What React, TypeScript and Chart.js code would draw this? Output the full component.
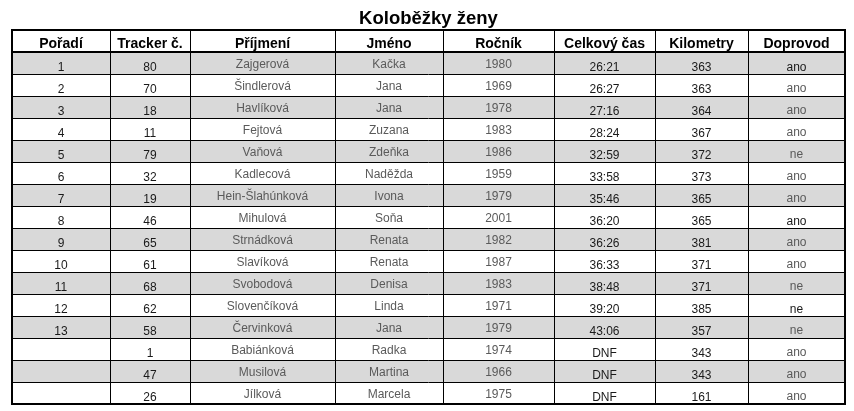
import React, { useEffect, useRef } from "react";
import { Chart, registerables } from "chart.js";

Chart.register(...registerables);

// ---------- DATA ----------
const title = "Koloběžky ženy";
const headers = ["Pořadí", "Tracker č.", "Příjmení", "Jméno", "Ročník", "Celkový čas", "Kilometry", "Doprovod"];
const ranks = ["1", "2", "3", "4", "5", "6", "7", "8", "9", "10", "11", "12", "13", "", "", ""];
const trackers = [80, 70, 18, 11, 79, 32, 19, 46, 65, 61, 68, 62, 58, 1, 47, 26];
const surnames = [
  "Zajgerová", "Šindlerová", "Havlíková", "Fejtová", "Vaňová", "Kadlecová", "Hein-Šlahúnková", "Mihulová",
  "Strnádková", "Slavíková", "Svobodová", "Slovenčíková", "Červinková", "Babiánková", "Musilová", "Jílková",
];
const firstNames = [
  "Kačka", "Jana", "Jana", "Zuzana", "Zdeňka", "Naděžda", "Ivona", "Soňa",
  "Renata", "Renata", "Denisa", "Linda", "Jana", "Radka", "Martina", "Marcela",
];
const birthYears = [1980, 1969, 1978, 1983, 1986, 1959, 1979, 2001, 1982, 1987, 1983, 1971, 1979, 1974, 1966, 1975];
const totalTimes = [
  "26:21", "26:27", "27:16", "28:24", "32:59", "33:58", "35:46", "36:20",
  "36:26", "36:33", "38:48", "39:20", "43:06", "DNF", "DNF", "DNF",
];
const kilometers = [363, 363, 364, 367, 372, 373, 365, 365, 381, 371, 371, 385, 357, 343, 343, 161];
const escorts = ["ano", "ano", "ano", "ano", "ne", "ano", "ano", "ano", "ano", "ano", "ne", "ne", "ne", "ano", "ano", "ano"];

// ---------- LAYOUT / STYLE ----------
const colWidths = [98, 80, 145, 108, 111, 101, 93, 97];
const FONT = "'Liberation Sans', Arial, sans-serif";
const DARK = "#1a1a1a";
const GREY = "#5a5a5a";
const BAND = "#d9d9d9";
// columns whose text is dark and sits low in the cell
const darkCols = [true, true, false, false, false, true, true, false];
// escort cells that are dark (rows 1, 8, 12)
const darkEscort = [0, 7, 11];

const App: React.FC = () => {
  const ref = useRef<HTMLCanvasElement | null>(null);

  useEffect(() => {
    if (!ref.current) return;
    const columns: string[][] = [
      ranks,
      trackers.map(String),
      surnames,
      firstNames,
      birthYears.map(String),
      totalTimes,
      kilometers.map(String),
      escorts,
    ];
    const nRows = ranks.length + 1;
    const edges: number[] = [0];
    colWidths.forEach((w) => edges.push(edges[edges.length - 1] + w));
    const total = edges[edges.length - 1];

    const tablePlugin = {
      id: "tablePlugin",
      afterDatasetsDraw(chart: any) {
        const ctx = chart.ctx as CanvasRenderingContext2D;
        const xs = chart.scales.x;
        const ys = chart.scales.y;
        const px = (v: number) => xs.getPixelForValue(v);
        const py = (v: number) => ys.getPixelForValue(v);
        ctx.save();
        // backgrounds
        for (let r = 0; r < nRows; r++) {
          const y0 = Math.round(py(r));
          const y1 = Math.round(py(r + 1));
          ctx.fillStyle = r > 0 && (r - 1) % 2 === 0 ? BAND : "#ffffff";
          ctx.fillRect(px(0), y0, px(total) - px(0), y1 - y0);
        }
        // text
        ctx.textAlign = "center";
        ctx.textBaseline = "alphabetic";
        for (let c = 0; c < headers.length; c++) {
          const cx = (px(edges[c]) + px(edges[c + 1])) / 2;
          const hy = py(0);
          ctx.font = `bold 14px ${FONT}`;
          ctx.fillStyle = "#000000";
          ctx.fillText(headers[c], cx, hy + 18);
          for (let i = 0; i < ranks.length; i++) {
            const top = py(i + 1);
            let color = darkCols[c] ? DARK : GREY;
            let base = darkCols[c] ? 19 : 16;
            if (c === 7) {
              const dark = darkEscort.includes(i);
              color = dark ? DARK : GREY;
              base = dark ? 18.5 : 17.5;
            }
            ctx.font = `12px ${FONT}`;
            ctx.fillStyle = color;
            ctx.fillText(columns[c][i], cx, top + base);
          }
        }
        // inner lines
        ctx.strokeStyle = "#000000";
        ctx.lineWidth = 1;
        ctx.beginPath();
        for (let c = 1; c < edges.length - 1; c++) {
          const x = Math.round(px(edges[c])) + 0.5;
          ctx.moveTo(x, py(0));
          ctx.lineTo(x, py(nRows));
        }
        for (let r = 2; r < nRows; r++) {
          const y = Math.round(py(r)) + 0.5;
          ctx.moveTo(px(0), y);
          ctx.lineTo(px(total), y);
        }
        ctx.stroke();
        // header bottom (thick)
        ctx.lineWidth = 2;
        ctx.beginPath();
        const hb = Math.round(py(1));
        ctx.moveTo(px(0), hb);
        ctx.lineTo(px(total), hb);
        ctx.stroke();
        // outer border
        ctx.strokeRect(
          Math.round(px(0)),
          Math.round(py(0)),
          Math.round(px(total)) - Math.round(px(0)),
          Math.round(py(nRows)) - Math.round(py(0))
        );
        ctx.restore();
      },
    };

    const chart = new Chart(ref.current, {
      type: "scatter",
      data: { datasets: [{ data: [], pointRadius: 0 }] },
      options: {
        animation: false,
        responsive: true,
        maintainAspectRatio: false,
        events: [],
        layout: { padding: { left: 12, right: 9, top: 0, bottom: 7 } },
        scales: {
          x: { type: "linear", min: 0, max: total, display: false },
          y: { type: "linear", min: 0, max: nRows, reverse: true, display: false },
        },
        plugins: {
          legend: { display: false },
          tooltip: { enabled: false },
          title: {
            display: true,
            text: title,
            color: "#000000",
            font: { family: FONT, size: 18.5, weight: "bold", lineHeight: 1.2 },
            padding: { top: 7.5, bottom: 0.3 },
          },
        },
      },
      plugins: [tablePlugin],
    });
    return () => chart.destroy();
  }, []);

  return (
    <div style={{ position: "absolute", left: 0, top: 0, width: 854, height: 411, background: "#ffffff" }}>
      <canvas ref={ref} />
    </div>
  );
};

export default App;
